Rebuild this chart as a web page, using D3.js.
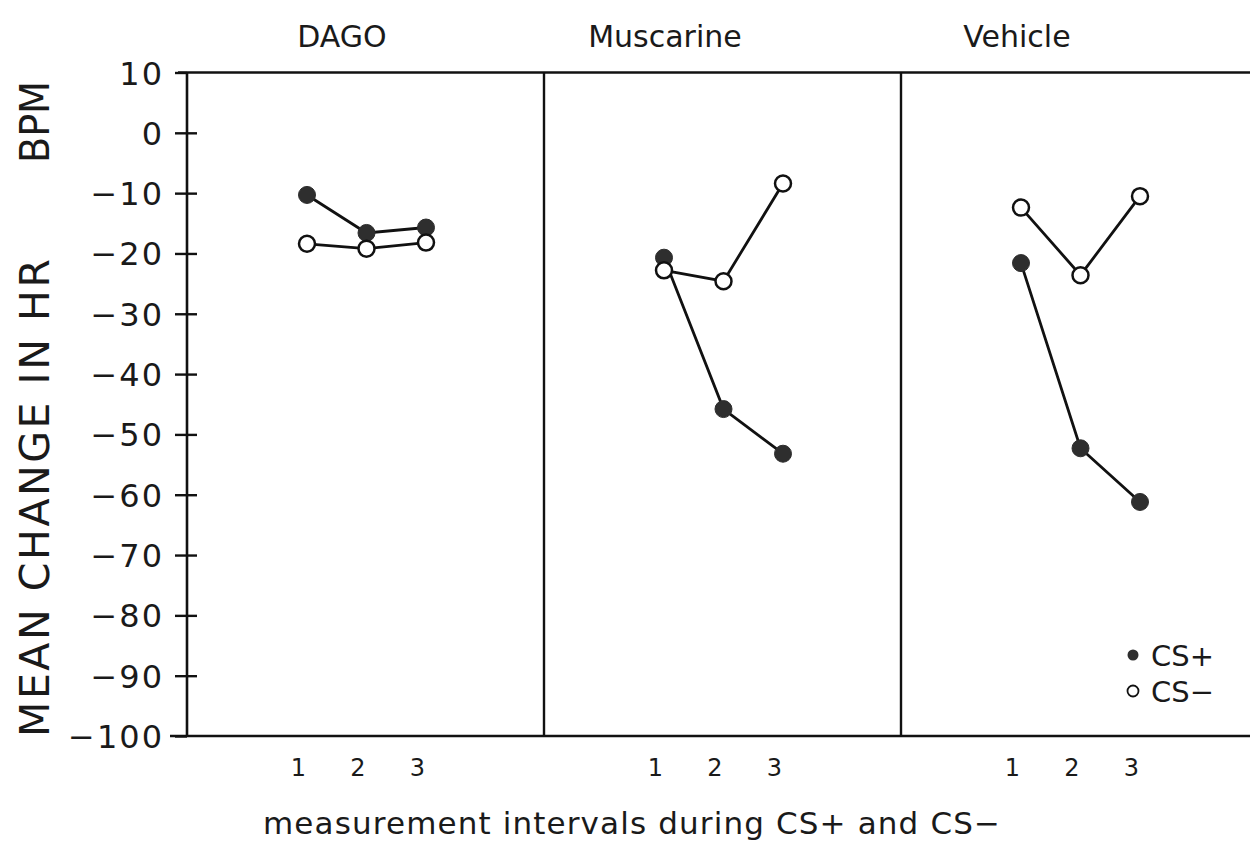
<!DOCTYPE html>
<html>
<head>
<meta charset="utf-8">
<script src="https://cdn.jsdelivr.net/npm/d3@7"></script>
<style>
  html, body { margin: 0; padding: 0; background: #fff; }
  svg { display: block; }
  text { font-family: "DejaVu Sans", "Liberation Sans", sans-serif; fill: #1a1a1a; }
</style>
</head>
<body>
<svg id="chart" width="1250" height="853"></svg>
<script>
// Treatment groups (one panel each) and interval numbers
const groups = ["DAGO", "Muscarine", "Vehicle"];
const intervals = [1, 2, 3];

// Mean change in heart rate (BPM) per interval
const csPlus = {
  DAGO:      [-10.3, -16.6, -15.7],
  Muscarine: [-20.7, -45.8, -53.2],
  Vehicle:   [-21.6, -52.3, -61.2]
};
const csMinus = {
  DAGO:      [-18.4, -19.2, -18.2],
  Muscarine: [-22.8, -24.6, -8.4],
  Vehicle:   [-12.4, -23.6, -10.5]
};

// Y axis ticks
const yTicks = [10, 0, -10, -20, -30, -40, -50, -60, -70, -80, -90, -100];

const svg = d3.select("#chart");
const W = 1250;
const axisX = 187;
const panelW = 357;
const plotTop = 72.5, plotBottom = 736;

const y = d3.scaleLinear().domain([-100, 10]).range([plotBottom, plotTop]);
const panels = d3.scaleBand().domain(groups).range([axisX, axisX + panelW * 3]).paddingInner(0).paddingOuter(0);

const ink = "#111";

// Frame: top and bottom rules, panel dividers
svg.append("line").attr("x1", axisX - 9).attr("x2", W).attr("y1", plotTop).attr("y2", plotTop)
  .attr("stroke", ink).attr("stroke-width", 2.6);
svg.append("line").attr("x1", axisX - 17).attr("x2", W).attr("y1", plotBottom).attr("y2", plotBottom)
  .attr("stroke", ink).attr("stroke-width", 2.6);
groups.slice(1).forEach(g => {
  svg.append("line").attr("x1", panels(g)).attr("x2", panels(g)).attr("y1", plotTop).attr("y2", plotBottom)
    .attr("stroke", ink).attr("stroke-width", 2.4);
});

// Y axis with ticks crossing the axis line
const fmt = d => d < 0 ? "\u2212" + Math.abs(d) : String(d);
const yAxis = svg.append("g").attr("transform", `translate(${axisX},0)`)
  .call(d3.axisLeft(y).tickValues(yTicks).tickFormat(fmt).tickSize(12).tickPadding(11));
yAxis.select(".domain").attr("stroke", ink).attr("stroke-width", 2.6)
  .attr("d", `M0,${plotTop}V${plotBottom}`);
yAxis.selectAll(".tick line").attr("stroke", ink).attr("stroke-width", 2.4)
  .attr("x1", d => (d === 10 || d === -100) ? 0 : 10);
yAxis.selectAll(".tick text")
  .style("font-size", "32px").attr("fill", "#1a1a1a").attr("dy", "0.36em")
  .style("letter-spacing", "2px");

// Y axis title
svg.append("text")
  .attr("transform", `translate(49,737) rotate(-90)`)
  .attr("textLength", 478).attr("lengthAdjust", "spacing")
  .style("font-size", "41px")
  .text("MEAN CHANGE IN HR");
svg.append("text")
  .attr("transform", `translate(49,163) rotate(-90)`)
  .attr("textLength", 82).attr("lengthAdjust", "spacingAndGlyphs")
  .style("font-size", "41px")
  .text("BPM");

// Panel title positions (centre of the title, as offset from the panel edge)
const titleOffset = { DAGO: 155, Muscarine: 121, Vehicle: 116 };

groups.forEach(g => {
  const left = panels(g);
  const x = d3.scaleLinear().domain([1, 3]).range([left + 120, left + 239]);

  // Title
  svg.append("text")
    .attr("x", left + titleOffset[g]).attr("y", 47)
    .attr("text-anchor", "middle")
    .style("font-size", "30px")
    .text(g);

  // Interval labels
  const xa = svg.append("g").attr("transform", `translate(0,${plotBottom})`)
    .call(d3.axisBottom(x).tickValues(intervals).tickFormat(d3.format("d")).tickSize(0).tickPadding(23));
  xa.select(".domain").remove();
  xa.selectAll(".tick text").style("font-size", "24px").attr("fill", "#1a1a1a").attr("dx", -9);

  const line = d3.line().x((d, i) => x(intervals[i])).y(d => y(d));

  // CS+ : filled markers
  svg.append("path").datum(csPlus[g]).attr("d", line)
    .attr("fill", "none").attr("stroke", ink).attr("stroke-width", 2.8);
  svg.selectAll(null).data(csPlus[g]).enter().append("circle")
    .attr("cx", (d, i) => x(intervals[i])).attr("cy", d => y(d)).attr("r", 8.5)
    .attr("fill", "#2e2e2e").attr("stroke", "#2e2e2e").attr("stroke-width", 1);

  // CS- : open markers
  svg.append("path").datum(csMinus[g]).attr("d", line)
    .attr("fill", "none").attr("stroke", ink).attr("stroke-width", 2.8);
  svg.selectAll(null).data(csMinus[g]).enter().append("circle")
    .attr("cx", (d, i) => x(intervals[i])).attr("cy", d => y(d)).attr("r", 8)
    .attr("fill", "#fff").attr("stroke", ink).attr("stroke-width", 2.5);
});

// Legend
const legend = svg.append("g").attr("transform", "translate(1133,655)");
legend.append("circle").attr("cx", 0).attr("cy", 0).attr("r", 5.5).attr("fill", "#2e2e2e");
legend.append("text").attr("x", 18).attr("y", 10.5).style("font-size", "29px").text("CS+");
legend.append("circle").attr("cx", 0).attr("cy", 36).attr("r", 5.5).attr("fill", "#fff")
  .attr("stroke", ink).attr("stroke-width", 1.8);
legend.append("text").attr("x", 18).attr("y", 46.5).style("font-size", "29px").text("CS\u2212");

// X axis title
svg.append("text")
  .attr("x", 263).attr("y", 834)
  .attr("textLength", 737).attr("lengthAdjust", "spacing")
  .style("font-size", "31px")
  .text("measurement intervals during CS+ and CS\u2212");
</script>
</body>
</html>
